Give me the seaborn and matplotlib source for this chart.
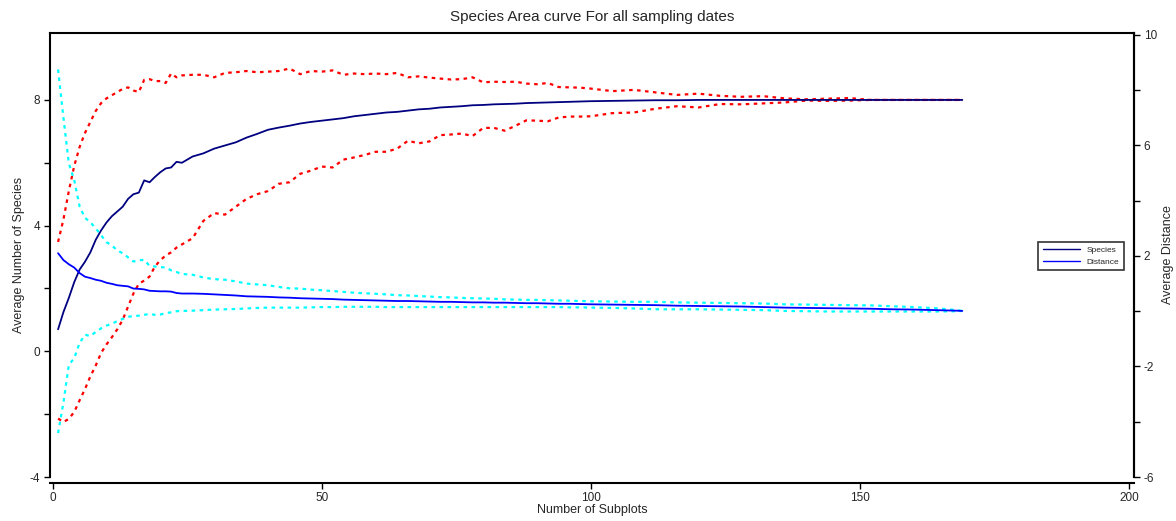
# -*- coding: utf-8 -*-
# Species area curve: species (left axis) and distance (right axis) with dotted bounds
import numpy as np
import pandas as pd
import matplotlib
matplotlib.use('Agg')
import matplotlib.pyplot as plt
from matplotlib.ticker import FixedLocator, NullLocator
import seaborn as sns

# ── data ──────────────────────────────────────────────────────
subplots = (list(range(1, 25)) + list(range(26, 101, 2))
            + list(range(104, 169, 4)) + [169])

species = [0.70, 1.25, 1.70, 2.20, 2.60, 2.85, 3.15, 3.55, 3.85, 4.10,
           4.30, 4.45, 4.60, 4.85, 5.00, 5.05, 5.44, 5.38, 5.55, 5.70,
           5.82, 5.85, 6.03, 6.00,
           6.20, 6.30, 6.45, 6.55, 6.65, 6.80, 6.92, 7.05, 7.12, 7.18,
           7.25, 7.30, 7.34, 7.38, 7.42, 7.48, 7.52, 7.56, 7.60, 7.62,
           7.66, 7.70, 7.72, 7.76, 7.78, 7.80, 7.83, 7.84, 7.86, 7.87,
           7.88, 7.90, 7.91, 7.92, 7.93, 7.94, 7.95, 7.96,
           7.97, 7.98, 7.99, 7.99, 8.00, 8.00, 8.00, 8.00, 8.00, 8.00,
           8.00, 8.00, 8.00, 8.00, 8.00, 8.00, 8.00, 8.00]

species_hi = [3.48, 4.20, 5.10, 5.90, 6.50, 6.95, 7.30, 7.65, 7.90, 8.05,
              8.15, 8.25, 8.35, 8.40, 8.30, 8.25, 8.64, 8.66, 8.60, 8.60,
              8.54, 8.84, 8.72, 8.78,
              8.80, 8.80, 8.72, 8.86, 8.88, 8.92, 8.88, 8.90, 8.92, 9.00,
              8.82, 8.92, 8.90, 8.94, 8.80, 8.84, 8.82, 8.84, 8.82, 8.86,
              8.72, 8.75, 8.71, 8.68, 8.65, 8.66, 8.72, 8.56, 8.58, 8.57,
              8.58, 8.52, 8.50, 8.54, 8.41, 8.40, 8.39, 8.36,
              8.28, 8.32, 8.24, 8.16, 8.20, 8.13, 8.10, 8.12, 8.05, 8.02,
              8.04, 8.06, 8.00, 8.00, 8.00, 8.00, 8.00, 8.00]

species_lo = [-2.14, -2.25, -2.15, -1.93, -1.56, -1.20, -0.80, -0.45, -0.05, 0.22,
              0.45, 0.70, 1.00, 1.42, 1.84, 2.15, 2.25, 2.38, 2.70, 2.90,
              3.05, 3.15, 3.30, 3.40,
              3.60, 4.15, 4.40, 4.35, 4.60, 4.85, 5.00, 5.10, 5.33, 5.38,
              5.65, 5.75, 5.88, 5.85, 6.10, 6.17, 6.25, 6.35, 6.35, 6.45,
              6.70, 6.62, 6.68, 6.88, 6.90, 6.93, 6.85, 7.11, 7.11, 7.02,
              7.18, 7.35, 7.34, 7.32, 7.44, 7.47, 7.47, 7.48,
              7.58, 7.60, 7.72, 7.80, 7.76, 7.87, 7.86, 7.89, 7.92, 7.98,
              7.97, 7.98, 8.00, 8.00, 8.00, 8.00, 8.00, 8.00]

distance = [2.10, 1.85, 1.70, 1.58, 1.38, 1.25, 1.20, 1.14, 1.10, 1.03,
            0.99, 0.94, 0.92, 0.90, 0.82, 0.81, 0.79, 0.74, 0.73, 0.72,
            0.72, 0.71, 0.66, 0.64,
            0.64, 0.63, 0.61, 0.59, 0.57, 0.54, 0.53, 0.52, 0.50, 0.49,
            0.47, 0.46, 0.45, 0.44, 0.42, 0.41, 0.40, 0.39, 0.38, 0.37,
            0.37, 0.36, 0.35, 0.34, 0.34, 0.33, 0.32, 0.32, 0.31, 0.31,
            0.30, 0.29, 0.29, 0.28, 0.27, 0.27, 0.26, 0.25,
            0.24, 0.23, 0.22, 0.20, 0.19, 0.18, 0.17, 0.15, 0.13, 0.12,
            0.11, 0.10, 0.09, 0.07, 0.06, 0.04, 0.02, 0.01]

distance_hi = [8.75, 7.00, 5.35, 4.75, 3.79, 3.38, 3.22, 3.00, 2.75, 2.50,
               2.38, 2.20, 2.10, 1.95, 1.80, 1.84, 1.86, 1.64, 1.62, 1.60,
               1.58, 1.48, 1.42, 1.35,
               1.32, 1.22, 1.16, 1.14, 1.08, 1.00, 0.97, 0.94, 0.88, 0.83,
               0.82, 0.78, 0.76, 0.73, 0.70, 0.67, 0.65, 0.63, 0.61, 0.58,
               0.57, 0.55, 0.53, 0.51, 0.50, 0.48, 0.47, 0.46, 0.45, 0.43,
               0.42, 0.41, 0.41, 0.40, 0.39, 0.38, 0.37, 0.36,
               0.35, 0.34, 0.34, 0.32, 0.31, 0.30, 0.29, 0.28, 0.25, 0.24,
               0.23, 0.22, 0.21, 0.18, 0.15, 0.11, 0.04, 0.01]

distance_lo = [-4.41, -3.30, -1.94, -1.70, -1.15, -0.85, -0.90, -0.75, -0.62, -0.52,
               -0.45, -0.36, -0.28, -0.20, -0.18, -0.16, -0.13, -0.10, -0.13, -0.12,
               -0.07, -0.04, 0.00, 0.01,
               0.02, 0.04, 0.06, 0.07, 0.08, 0.10, 0.12, 0.13, 0.13, 0.13,
               0.13, 0.14, 0.15, 0.15, 0.16, 0.16, 0.16, 0.16, 0.15, 0.15,
               0.15, 0.15, 0.15, 0.15, 0.15, 0.15, 0.15, 0.15, 0.15, 0.15,
               0.15, 0.15, 0.15, 0.15, 0.15, 0.14, 0.14, 0.13,
               0.12, 0.10, 0.07, 0.07, 0.07, 0.06, 0.05, 0.04, 0.01, 0.00,
               -0.01, -0.01, -0.01, -0.01, -0.01, -0.01, 0.00, 0.01]

df = pd.DataFrame({'subplots': subplots,
                   'species': species, 'species_hi': species_hi, 'species_lo': species_lo,
                   'distance': distance, 'distance_hi': distance_hi, 'distance_lo': distance_lo})

# ── style ─────────────────────────────────────────────────────
sns.set_style('white')
plt.rcParams['font.family'] = ['Liberation Sans', 'DejaVu Sans']
plt.rcParams['axes.unicode_minus'] = False

W, H = 1176, 521
fig = plt.figure(figsize=(W / 100, H / 100), dpi=100)
ax = fig.add_axes([50 / W, 44 / H, 1084 / W, 444 / H])
ax2 = ax.twinx()

dots = (0, (1.6, 2.0))
sns.lineplot(data=df, x='subplots', y='species_hi', ax=ax, color='#ff0000',
             lw=1.6, linestyle=dots, errorbar=None)
sns.lineplot(data=df, x='subplots', y='species_lo', ax=ax, color='#ff0000',
             lw=1.6, linestyle=dots, errorbar=None)
sns.lineplot(data=df, x='subplots', y='species', ax=ax, color='#000080',
             lw=1.3, errorbar=None, label='Species')

sns.lineplot(data=df, x='subplots', y='distance_hi', ax=ax2, color='#00ffff',
             lw=1.6, linestyle=dots, errorbar=None)
sns.lineplot(data=df, x='subplots', y='distance_lo', ax=ax2, color='#00ffff',
             lw=1.6, linestyle=dots, errorbar=None)
sns.lineplot(data=df, x='subplots', y='distance', ax=ax2, color='#0000ff',
             lw=1.3, errorbar=None, label='Distance')

# ── axes ──────────────────────────────────────────────────────
ax.set_xlim(-0.5, 200.9)
ax.set_ylim(-4, 10.13)
ax2.set_ylim(-6, 10.07)

ax.xaxis.set_major_locator(FixedLocator([0, 50, 100, 150, 200]))
ax.xaxis.set_minor_locator(NullLocator())
ax.yaxis.set_major_locator(FixedLocator([-4, 0, 4, 8]))
ax.yaxis.set_minor_locator(FixedLocator([-2, 2, 6]))
ax2.yaxis.set_major_locator(FixedLocator([-6, -2, 2, 6, 10]))
ax2.yaxis.set_minor_locator(FixedLocator([-4, 0, 4, 8]))

for a in (ax, ax2):
    a.tick_params(which='both', direction='out', color='black', width=1,
                  labelsize=8.5, pad=3, length=4)
    for s in a.spines.values():
        s.set_color('black')
        s.set_linewidth(1.5)

ax.tick_params(axis='y', left=True, right=False)
ax.tick_params(axis='x', bottom=True)
ax2.tick_params(axis='y', right=True, left=False)
ax.spines['bottom'].set_position(('outward', 4))
ax2.spines['bottom'].set_visible(False)
ax2.spines['left'].set_visible(False)
ax2.spines['top'].set_visible(False)

ax.set_title('Species Area curve For all sampling dates', fontsize=11, pad=9)
ax.set_xlabel('Number of Subplots', fontsize=9)
ax.set_ylabel('Average Number of Species', fontsize=9)
ax2.set_ylabel('Average Distance', fontsize=9)
ax.xaxis.set_label_coords(0.5, -0.06)
ax.yaxis.set_label_coords(-0.023, 0.5)
ax2.yaxis.set_label_coords(1.026, 0.5)

# legend with both solid lines
h1, l1 = ax.get_legend_handles_labels()
h2, l2 = ax2.get_legend_handles_labels()
if ax.get_legend() is not None:
    ax.get_legend().remove()
leg = ax2.legend(h1 + h2, l1 + l2, loc='center', bbox_to_anchor=(1081 / W, 1 - 256 / H),
                 bbox_transform=fig.transFigure, fontsize=6, frameon=True,
                 fancybox=False, handlelength=4.5, borderpad=0.5, labelspacing=0.5)
leg.get_frame().set_edgecolor('black')
leg.get_frame().set_linewidth(1.2)
for line in leg.get_lines():
    line.set_linewidth(1.0)

fig.savefig('out.png', dpi=100)
